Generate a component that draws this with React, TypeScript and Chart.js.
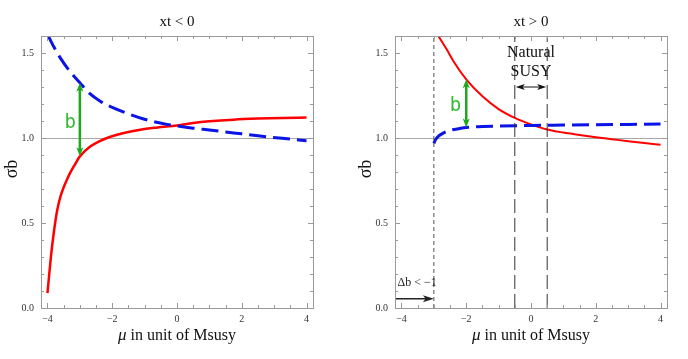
import React, { useEffect, useRef } from "react";
import { Chart, registerables } from "chart.js";
Chart.register(...registerables);

// ---- data ----
const xTickValues = [-4, -2, 0, 2, 4];
const yTickValues = [0, 0.5, 1.0, 1.5];
const xMinorTicks = [-4, -3.5, -3, -2.5, -2, -1.5, -1, -0.5, 0, 0.5, 1, 1.5, 2, 2.5, 3, 3.5, 4];
const yMinorTicks = [0, 0.1, 0.2, 0.3, 0.4, 0.5, 0.6, 0.7, 0.8, 0.9, 1.0, 1.1, 1.2, 1.3, 1.4, 1.5];
const referenceY = [1.0];

const leftRedX = [-4, -3.95, -3.9, -3.8, -3.7, -3.6, -3.5, -3.4, -3.3, -3.15, -3.0, -2.67, -2.4, -2.16, -1.64, -1.13, -0.6, 0, 0.5, 1, 1.75, 2.5, 3.25, 4];
const leftRedY = [0.088, 0.19, 0.29, 0.45, 0.575, 0.655, 0.71, 0.755, 0.795, 0.845, 0.892, 0.951, 0.98, 1.0, 1.029, 1.049, 1.062, 1.074, 1.088, 1.098, 1.108, 1.114, 1.118, 1.12];
const leftBlueX = [-4, -3.8, -3.6, -3.3, -3.0, -2.7, -2.36, -2, -1.64, -1.03, -0.31, 0, 0.5, 1, 1.75, 2.5, 3.25, 4];
const leftBlueY = [1.61, 1.535, 1.47, 1.39, 1.325, 1.262, 1.215, 1.18, 1.152, 1.112, 1.08, 1.071, 1.058, 1.047, 1.03, 1.013, 0.998, 0.984];

const rightRedX = [-2.86, -2.6, -2.39, -2, -1.5, -1, -0.5, 0, 0.5, 1, 1.5, 2, 2.5, 3, 3.5, 4];
const rightRedY = [1.6, 1.52, 1.45, 1.345, 1.245, 1.17, 1.118, 1.08, 1.05, 1.032, 1.018, 1.005, 0.993, 0.981, 0.97, 0.96];
const rightBlueX = [-3, -2.95, -2.85, -2.7, -2.5, -2.2, -2, -1.5, -1, 0, 1, 2, 3, 4];
const rightBlueY = [0.968, 0.99, 1.012, 1.03, 1.045, 1.056, 1.062, 1.067, 1.07, 1.074, 1.076, 1.078, 1.08, 1.082];

// green "b" arrows: [x, low, high]
const leftArrow = [-3, 0.892, 1.325];
const rightArrow = [-2, 1.062, 1.345];
const leftBLabel = [-3.3, 1.09];
const rightBLabel = [-2.33, 1.19];

// right panel annotations
const deltaBoundX = [-3];
const naturalX = [-0.5, 0.5];
const naturalArrowY = 1.3;
const naturalTextY = [1.5, 1.39];
const deltaArrowY = 0.055;
const deltaText = [-4.12, 0.15];

const SERIF = "'Liberation Serif', 'DejaVu Serif', serif";

function pts(xs: number[], ys: number[]) {
  return xs.map((x, i) => ({ x, y: ys[i] }));
}

function head(ctx: CanvasRenderingContext2D, x: number, y: number, dx: number, dy: number, len: number, w: number) {
  const bx = x - dx * len, by = y - dy * len;
  const px = -dy, py = dx;
  ctx.beginPath();
  ctx.moveTo(x, y);
  ctx.lineTo(bx + px * w / 2, by + py * w / 2);
  ctx.lineTo(bx + dx * len * 0.25, by + dy * len * 0.25);
  ctx.lineTo(bx - px * w / 2, by - py * w / 2);
  ctx.closePath();
  ctx.fill();
}

function commonDraw(chart: any, title: string) {
  const { ctx, chartArea: a, scales } = chart;
  const x = scales.x, y = scales.y;
  ctx.save();
  // frame
  ctx.strokeStyle = "#9a9a9a";
  ctx.lineWidth = 1;
  ctx.strokeRect(Math.round(a.left) + 0.5, Math.round(a.top) + 0.5, Math.round(a.right - a.left), Math.round(a.bottom - a.top));
  // ticks
  ctx.beginPath();
  xMinorTicks.forEach((v) => {
    const px = Math.round(x.getPixelForValue(v)) + 0.5;
    const L = xTickValues.includes(v) ? 5 : 3;
    ctx.moveTo(px, a.bottom); ctx.lineTo(px, a.bottom - L);
    ctx.moveTo(px, a.top); ctx.lineTo(px, a.top + L);
  });
  yMinorTicks.forEach((v) => {
    const py = Math.round(y.getPixelForValue(v)) + 0.5;
    const L = yTickValues.some((t) => Math.abs(t - v) < 1e-9) ? 5 : 3;
    ctx.moveTo(a.left, py); ctx.lineTo(a.left + L, py);
    ctx.moveTo(a.right, py); ctx.lineTo(a.right - L, py);
  });
  ctx.stroke();
  // axis titles
  ctx.fillStyle = "#111";
  ctx.textBaseline = "middle";
  const cx = (a.left + a.right) / 2;
  const mu = "\u03bc";
  const rest = " in unit of Msusy";
  ctx.font = `italic 17px ${SERIF}`;
  const wMu = ctx.measureText(mu).width;
  ctx.font = `16px ${SERIF}`;
  const wRest = ctx.measureText(rest).width;
  const sx = cx - (wMu + wRest) / 2;
  ctx.textAlign = "left";
  ctx.font = `italic 17px ${SERIF}`;
  ctx.fillText(mu, sx, 336);
  ctx.font = `16px ${SERIF}`;
  ctx.fillText(rest, sx + wMu, 336);
  ctx.save();
  ctx.translate(12, (a.top + a.bottom) / 2 - 3);
  ctx.rotate(-Math.PI / 2);
  ctx.textAlign = "center";
  ctx.font = `18px ${SERIF}`;
  ctx.fillText("\u03c3b", 0, 0);
  ctx.restore();
  // title
  ctx.textAlign = "center";
  ctx.font = `15px ${SERIF}`;
  ctx.fillText(title, cx, 22);
  ctx.restore();
}

function greenArrow(chart: any, arr: number[], label: number[]) {
  const { ctx, scales } = chart;
  const x = scales.x, y = scales.y;
  const px = x.getPixelForValue(arr[0]);
  const y1 = y.getPixelForValue(arr[1]);
  const y2 = y.getPixelForValue(arr[2]);
  ctx.save();
  ctx.strokeStyle = "#1ea81e";
  ctx.fillStyle = "#1ea81e";
  ctx.lineWidth = 2.5;
  ctx.beginPath();
  ctx.moveTo(px, y1 - 6);
  ctx.lineTo(px, y2 + 6);
  ctx.stroke();
  head(ctx, px, y1, 0, 1, 9, 7);
  head(ctx, px, y2, 0, -1, 9, 7);
  ctx.fillStyle = "#33bb33";
  ctx.font = `19px 'DejaVu Sans Mono', 'Liberation Mono', monospace`;
  ctx.textAlign = "center";
  ctx.textBaseline = "middle";
  ctx.fillText("b", x.getPixelForValue(label[0]), y.getPixelForValue(label[1]));
  ctx.restore();
}

function baseOptions(padRight: number) {
  return {
    responsive: false,
    animation: false as const,
    events: [] as any[],
    layout: { padding: { top: 36, left: 0, right: padRight, bottom: 0 } },
    plugins: { legend: { display: false }, tooltip: { enabled: false }, title: { display: false } },
    scales: {
      x: {
        type: "linear" as const,
        min: -4.2,
        max: 4.2,
        afterBuildTicks: (s: any) => { s.ticks = xTickValues.map((v) => ({ value: v })); },
        afterFit: (s: any) => { s.height = 51; },
        grid: { display: false, drawTicks: false },
        border: { display: false },
        ticks: {
          autoSkip: false,
          maxRotation: 0,
          padding: 5,
          color: "#333",
          font: { family: SERIF, size: 10 },
          callback: (v: any) => (v < 0 ? "\u2212" + Math.abs(v) : String(v)),
        },
      },
      y: {
        type: "linear" as const,
        min: 0,
        max: 1.6,
        afterBuildTicks: (s: any) => { s.ticks = yTickValues.map((v) => ({ value: v })); },
        afterFit: (s: any) => { s.width = 41; },
        grid: {
          display: true,
          drawTicks: false,
          color: (c: any) => (c.tick && referenceY.includes(c.tick.value) ? "#a8a8a8" : "rgba(0,0,0,0)"),
          lineWidth: 1,
        },
        border: { display: false },
        ticks: {
          autoSkip: false,
          padding: 7,
          color: "#333",
          font: { family: SERIF, size: 10 },
          callback: (v: any) => Number(v).toFixed(1),
        },
      },
    },
  };
}

function lineDs(data: any[], color: string, width: number, dash: number[] = []) {
  return {
    data,
    borderColor: color,
    borderWidth: width,
    borderDash: dash,
    pointRadius: 0,
    fill: false,
    cubicInterpolationMode: "monotone" as const,
  };
}

function vLine(xv: number, dash: number[], color: string) {
  return {
    data: [{ x: xv, y: 0 }, { x: xv, y: 1.6 }],
    borderColor: color,
    borderWidth: 1,
    borderDash: dash,
    pointRadius: 0,
    fill: false,
  };
}

function LeftPanel() {
  const ref = useRef<HTMLCanvasElement>(null);
  useEffect(() => {
    const chart = new Chart(ref.current!, {
      type: "line",
      data: {
        datasets: [
          lineDs(pts(leftBlueX, leftBlueY), "#0a14e6", 3, [17, 7]),
          lineDs(pts(leftRedX, leftRedY), "#ff0000", 2.5),
        ],
      },
      options: baseOptions(31) as any,
      plugins: [
        {
          id: "leftExtras",
          afterDatasetsDraw(c: any) {
            greenArrow(c, leftArrow, leftBLabel);
            commonDraw(c, "xt < 0");
          },
        },
      ],
    });
    return () => chart.destroy();
  }, []);
  return <canvas ref={ref} width={344} height={359} style={{ position: "absolute", left: 0, top: 0 }} />;
}

function RightPanel() {
  const ref = useRef<HTMLCanvasElement>(null);
  useEffect(() => {
    const chart = new Chart(ref.current!, {
      type: "line",
      data: {
        datasets: [
          ...deltaBoundX.map((v) => vLine(v, [4, 3], "#555")),
          ...naturalX.map((v) => vLine(v, [14, 5], "#333")),
          lineDs(pts(rightBlueX, rightBlueY), "#0a14e6", 3, [17, 7]),
          lineDs(pts(rightRedX, rightRedY), "#ff0000", 2),
        ],
      },
      options: baseOptions(21) as any,
      plugins: [
        {
          id: "rightExtras",
          afterDatasetsDraw(c: any) {
            const { ctx, chartArea: a, scales } = c;
            const x = scales.x, y = scales.y;
            greenArrow(c, rightArrow, rightBLabel);
            ctx.save();
            // Natural SUSY double arrow
            const xa = x.getPixelForValue(naturalX[0]);
            const xb = x.getPixelForValue(naturalX[1]);
            const ya = y.getPixelForValue(naturalArrowY);
            ctx.strokeStyle = "#111";
            ctx.fillStyle = "#111";
            ctx.lineWidth = 1;
            ctx.beginPath();
            ctx.moveTo(xa + 4, ya);
            ctx.lineTo(xb - 4, ya);
            ctx.stroke();
            head(ctx, xa + 1, ya, -1, 0, 9, 6);
            head(ctx, xb - 1, ya, 1, 0, 9, 6);
            ctx.font = `16px ${SERIF}`;
            ctx.textAlign = "center";
            ctx.textBaseline = "middle";
            const cxm = (xa + xb) / 2;
            ctx.fillText("Natural", cxm, y.getPixelForValue(naturalTextY[0]));
            ctx.fillText("SUSY", cxm, y.getPixelForValue(naturalTextY[1]));
            // Delta b arrow
            const xd = x.getPixelForValue(deltaBoundX[0]);
            const yd = y.getPixelForValue(deltaArrowY);
            ctx.strokeStyle = "#222";
            ctx.fillStyle = "#222";
            ctx.lineWidth = 1.5;
            ctx.beginPath();
            ctx.moveTo(a.left, yd);
            ctx.lineTo(xd - 6, yd);
            ctx.stroke();
            head(ctx, xd, yd, 1, 0, 11, 7);
            ctx.font = `12px ${SERIF}`;
            ctx.textAlign = "left";
            ctx.fillStyle = "#222";
            ctx.fillText("\u0394b < \u22121", x.getPixelForValue(deltaText[0]), y.getPixelForValue(deltaText[1]));
            ctx.restore();
            commonDraw(c, "xt > 0");
          },
        },
      ],
    });
    return () => chart.destroy();
  }, []);
  return <canvas ref={ref} width={334} height={359} style={{ position: "absolute", left: 354, top: 0 }} />;
}

export default function App() {
  return (
    <div style={{ position: "fixed", left: 0, top: 0, width: 688, height: 359, background: "#fff", overflow: "hidden" }}>
      <LeftPanel />
      <RightPanel />
    </div>
  );
}
